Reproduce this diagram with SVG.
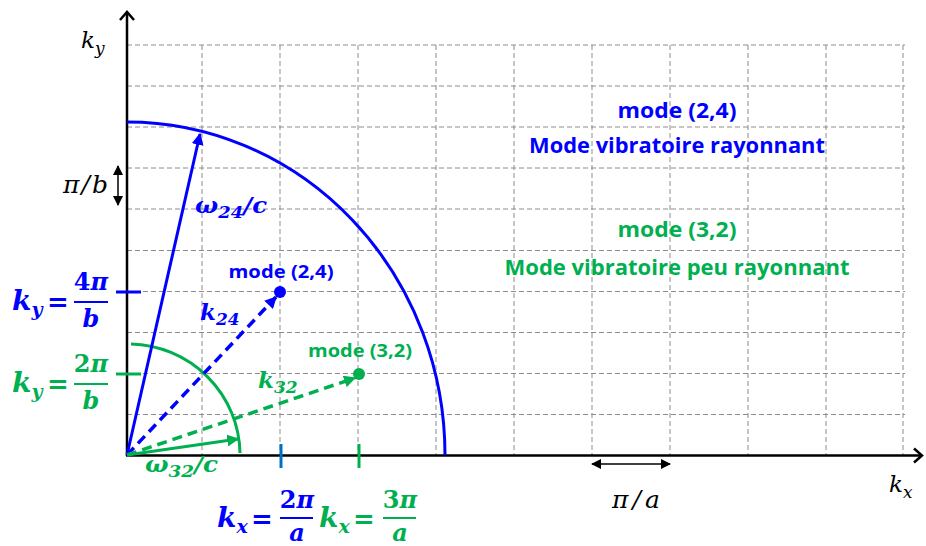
<svg xmlns="http://www.w3.org/2000/svg" width="926" height="546" viewBox="0 0 926 546">
<defs>
<style>
.grid{stroke:#8c8c8c;stroke-width:1;stroke-dasharray:5,3;fill:none}
.axis{stroke:#000;stroke-width:2.5;fill:none}
.blue{fill:#0000ff}
.green{fill:#00b050}
.sans{font-family:"Open Sans","Liberation Sans",sans-serif;font-weight:bold}
.math{font-family:"DejaVu Serif","Liberation Serif",serif;font-style:italic}
.bm{font-family:"DejaVu Serif","Liberation Serif",serif;font-style:italic;font-weight:bold}
.up{font-family:"DejaVu Serif","Liberation Serif",serif;font-weight:bold;font-style:normal}
</style>
<marker id="ab" viewBox="0 0 10 10" refX="9" refY="5" markerWidth="12" markerHeight="12" markerUnits="userSpaceOnUse" orient="auto"><path d="M0,0 L10,5 L0,10 z" fill="#0000ff"/></marker>
<marker id="ag" viewBox="0 0 10 10" refX="9" refY="5" markerWidth="12" markerHeight="12" markerUnits="userSpaceOnUse" orient="auto"><path d="M0,0 L10,5 L0,10 z" fill="#00b050"/></marker>
<marker id="ak" viewBox="0 0 10 10" refX="9" refY="5" markerWidth="10" markerHeight="10" markerUnits="userSpaceOnUse" orient="auto-start-reverse"><path d="M0,0 L10,5 L0,10 z" fill="#000"/></marker>
</defs>
<rect width="926" height="546" fill="#fff"/>
<g id="grid">
<path class="grid" d="M202,45V455M280,45V455M358,45V455M436,45V455M514,45V455M592,45V455M670,45V455M748,45V455M826,45V455M903,45V455"/>
<path class="grid" d="M127,45H905M127,86H905M127,127H905M127,168H905M127,209H905M127,250.5H905M127,291.5H905M127,332.5H905M127,373.5H905M127,414.5H905"/>
</g>
<g id="axes">
<path class="axis" d="M127,456V12"/>
<path class="axis" d="M120,20L127,12L134,20"/>
<path class="axis" d="M126,455.5H922"/>
<path class="axis" d="M914,448.5L922,455.5L914,462.5"/>
<text class="math" x="81" y="48" font-size="23">k<tspan font-size="17" dy="6">y</tspan></text>
<text class="math" x="889" y="492" font-size="23">k<tspan font-size="17" dy="6">x</tspan></text>
</g>
<g id="arcs">
<path d="M127,122 A318,333 0 0 1 445,455" fill="none" stroke="#0000ff" stroke-width="3"/>
<path d="M131,344 A112,111 0 0 1 240,453" fill="none" stroke="#00b050" stroke-width="3"/>
</g>
<g id="connectors">
<line x1="127" y1="455" x2="200" y2="134" stroke="#0000ff" stroke-width="3" marker-end="url(#ab)"/>
<line x1="127" y1="455" x2="238" y2="439" stroke="#00b050" stroke-width="3" marker-end="url(#ag)"/>
<line x1="127" y1="455" x2="276" y2="297" stroke="#0000ff" stroke-width="3.5" stroke-dasharray="10,6" marker-end="url(#ab)"/>
<line x1="127" y1="455" x2="355" y2="378" stroke="#00b050" stroke-width="3.5" stroke-dasharray="10,6" marker-end="url(#ag)"/>
<line x1="118" y1="166" x2="118" y2="205" stroke="#000" stroke-width="1.5" marker-start="url(#ak)" marker-end="url(#ak)"/>
<line x1="592" y1="464" x2="670" y2="464" stroke="#000" stroke-width="1.5" marker-start="url(#ak)" marker-end="url(#ak)"/>
</g>
<g id="ticks">
<line x1="116" y1="292" x2="141" y2="292" stroke="#0000ff" stroke-width="3"/>
<line x1="116" y1="374" x2="141" y2="374" stroke="#00b050" stroke-width="3"/>
<line x1="281" y1="444" x2="281" y2="468" stroke="#0070c0" stroke-width="3"/>
<line x1="359" y1="444" x2="359" y2="468" stroke="#00b050" stroke-width="3"/>
</g>
<g id="mode24">
<circle cx="280" cy="292" r="6" fill="#0000ff"/>
<text class="sans blue" x="281" y="278" font-size="17" text-anchor="middle" textLength="105" lengthAdjust="spacingAndGlyphs">mode (2,4)</text>
<text class="bm blue" x="200" y="320" font-size="23">k<tspan font-size="17" dy="5">24</tspan></text>
</g>
<g id="mode32">
<circle cx="359" cy="374" r="6" fill="#00b050"/>
<text class="sans green" x="360" y="357" font-size="17" text-anchor="middle" textLength="104" lengthAdjust="spacingAndGlyphs">mode (3,2)</text>
<text class="bm green" x="258" y="388" font-size="23">k<tspan font-size="17" dy="5">32</tspan></text>
</g>
<g id="omega">
<text class="bm blue" x="195" y="213" font-size="23" textLength="72" lengthAdjust="spacingAndGlyphs">ω<tspan font-size="17" dy="5">24</tspan><tspan dy="-5">/c</tspan></text>
<text class="bm green" x="145" y="472" font-size="23" textLength="73" lengthAdjust="spacingAndGlyphs">ω<tspan font-size="17" dy="5">32</tspan><tspan dy="-5">/c</tspan></text>
<text class="math" x="63" y="193" font-size="25" textLength="45" lengthAdjust="spacing">π/b</text>
<text class="math" x="612" y="508" font-size="25" textLength="48" lengthAdjust="spacing">π/a</text>
</g>
<g id="legend">
<text class="sans blue" x="677" y="118" font-size="22" text-anchor="middle" textLength="119" lengthAdjust="spacingAndGlyphs">mode (2,4)</text>
<text class="sans blue" x="677" y="153" font-size="22" text-anchor="middle" textLength="296" lengthAdjust="spacingAndGlyphs">Mode vibratoire rayonnant</text>
<text class="sans green" x="677" y="237" font-size="22" text-anchor="middle" textLength="119" lengthAdjust="spacingAndGlyphs">mode (3,2)</text>
<text class="sans green" x="677" y="275" font-size="22" text-anchor="middle" textLength="345" lengthAdjust="spacingAndGlyphs">Mode vibratoire peu rayonnant</text>
</g>
<g id="ky4">
<text class="bm blue" x="12" y="310" font-size="28">k<tspan font-size="19" dy="6">y</tspan></text>
<text class="up blue" x="58" y="311" font-size="26" text-anchor="middle">=</text>
<text class="up blue" x="91" y="290" font-size="24" text-anchor="middle"><tspan>4</tspan><tspan font-style="italic">π</tspan></text>
<line x1="74" y1="302" x2="108" y2="302" stroke="#0000ff" stroke-width="2"/>
<text class="bm blue" x="91" y="327" font-size="24" text-anchor="middle">b</text>
</g>
<g id="ky2">
<text class="bm green" x="12" y="392" font-size="28">k<tspan font-size="19" dy="6">y</tspan></text>
<text class="up green" x="58" y="393" font-size="26" text-anchor="middle">=</text>
<text class="up green" x="91" y="372" font-size="24" text-anchor="middle"><tspan>2</tspan><tspan font-style="italic">π</tspan></text>
<line x1="74" y1="384" x2="108" y2="384" stroke="#00b050" stroke-width="2"/>
<text class="bm green" x="91" y="409" font-size="24" text-anchor="middle">b</text>
</g>
<g id="kx2">
<text class="bm blue" x="217" y="527" font-size="28">k<tspan font-size="19" dy="6">x</tspan></text>
<text class="up blue" x="262" y="528" font-size="26" text-anchor="middle">=</text>
<text class="up blue" x="297" y="508" font-size="24" text-anchor="middle"><tspan>2</tspan><tspan font-style="italic">π</tspan></text>
<line x1="280" y1="518" x2="313" y2="518" stroke="#0000ff" stroke-width="2"/>
<text class="bm blue" x="297" y="541" font-size="24" text-anchor="middle">a</text>
</g>
<g id="kx3">
<text class="bm green" x="319" y="527" font-size="28">k<tspan font-size="19" dy="6">x</tspan></text>
<text class="up green" x="364" y="528" font-size="26" text-anchor="middle">=</text>
<text class="up green" x="400" y="508" font-size="24" text-anchor="middle"><tspan>3</tspan><tspan font-style="italic">π</tspan></text>
<line x1="383" y1="518" x2="416" y2="518" stroke="#00b050" stroke-width="2"/>
<text class="bm green" x="400" y="541" font-size="24" text-anchor="middle">a</text>
</g>
</svg>
